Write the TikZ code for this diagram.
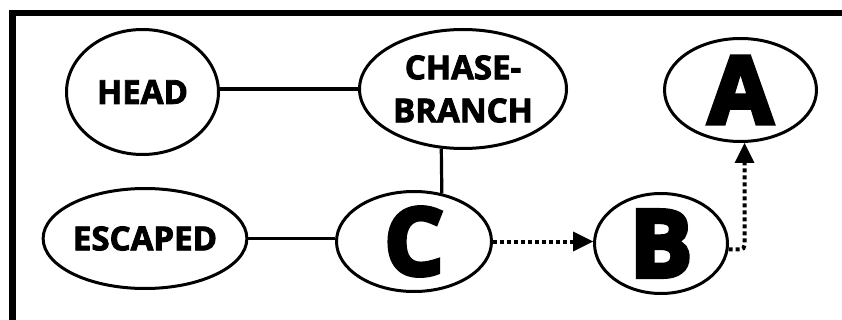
\documentclass[tikz,border=0pt]{standalone}
\usepackage{fontspec}
\newfontfamily\xb{Open Sans}[FakeBold=2.6]
\newfontfamily\xbig{Open Sans}[FakeBold=5]
\usetikzlibrary{shapes.geometric,arrows.meta}
\tikzset{
  st/.style={draw=black, line width=3pt, ellipse, inner sep=0pt, font=\xb\bfseries\fontsize{33}{43}\selectfont, align=center},
  big/.style={st, font=\xbig\bfseries\fontsize{93}{93}\selectfont},
  link/.style={draw=black, line width=3.2pt},
  dotarrow/.style={draw=black, line width=4pt, dash pattern=on 4pt off 3pt,
    -{Triangle[length=20pt,width=20pt,line width=0pt]}}
}
\begin{document}
\begin{tikzpicture}[x=1pt,y=-1pt]
\useasboundingbox (0,0) rectangle (842,320);
\begin{scope}
\clip (0,0) rectangle (842,320);
\draw[line width=6.5pt] (12.5,340) -- (12.5,13) -- (860,13);
\end{scope}
\node[st, minimum width=152pt, minimum height=125pt] (head) at (142.5,92) {HEAD};
\node[st, minimum width=193pt, minimum height=100pt] (esc) at (145,238.5) {ESCAPED};
\node[st, minimum width=207pt, minimum height=119pt] (chase) at (463,89) {CHASE-\\BRANCH};
\node[big, minimum width=155pt, minimum height=100pt] (c) at (414,241.5) {C};
\node[big, minimum width=133pt, minimum height=100pt] (b) at (661,243.5) {B};
\node[big, minimum width=152pt, minimum height=103pt] (a) at (740.5,90) {A};
\draw[link] (head.east |- chase) -- (chase.west);
\draw[link] (esc.east) -- (c.west |- esc.east);
\draw[link] (chase.250) -- (c.60.6);
\draw[dotarrow] (c.east) -- (b.west |- c.east);
\draw[dotarrow, rounded corners=4pt] (b.-5) -| ([xshift=4pt]a.south);
\end{tikzpicture}
\end{document}
